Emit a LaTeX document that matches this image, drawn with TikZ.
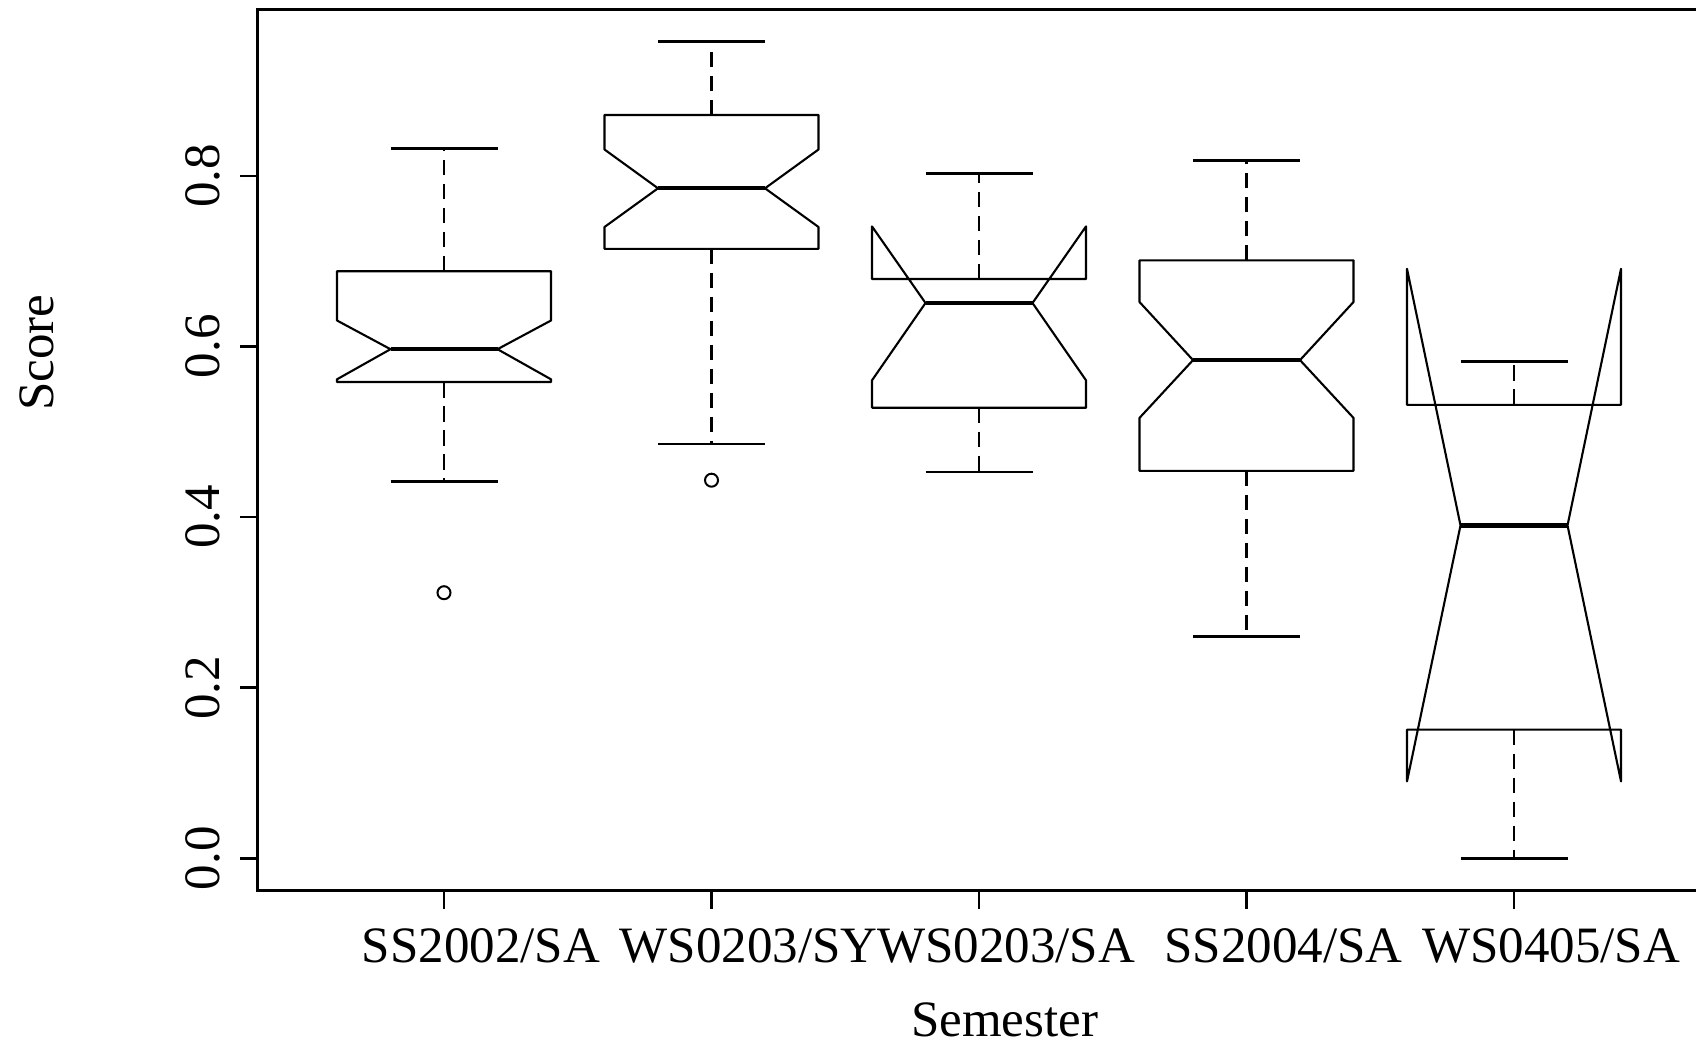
\documentclass[tikz,border=0pt]{standalone}
\usepackage{fontspec}
\setmainfont{Liberation Serif}
% #1 cx, #2 lower cap, #3 Q1, #4 notch low, #5 median, #6 notch high, #7 Q3, #8 upper cap (image y, downward)
\newcommand\nbxp[8]{%
  \draw[whisk] (#1,#3) -- (#1,#2);
  \draw[whisk] (#1,#7) -- (#1,#8);
  \draw[staple] ({#1-53.5},#2) -- ({#1+53.5},#2);
  \draw[staple] ({#1-53.5},#8) -- ({#1+53.5},#8);
  \draw[boxline] ({#1-107},#3) -- ({#1-107},#4) -- ({#1-53.5},#5) -- ({#1-107},#6) -- ({#1-107},#7)
     -- ({#1+107},#7) -- ({#1+107},#6) -- ({#1+53.5},#5) -- ({#1+107},#4) -- ({#1+107},#3) -- cycle;
  \draw[medline] ({#1-53.5},#5) -- ({#1+53.5},#5);
}
\begin{document}
\begin{tikzpicture}[x=0.5pt,y=-0.5pt,
  frame/.style={line width=1.35pt},
  boxline/.style={line width=1.05pt, line join=round},
  medline/.style={line width=2.15pt},
  whisk/.style={line width=1.35pt, dash pattern=on 7.75pt off 4.25pt},
  staple/.style={line width=1.45pt},
  tickline/.style={line width=1.2pt},
  outl/.style={line width=1pt},
  lab/.style={font=\fontsize{25.5pt}{30pt}\selectfont, inner sep=0pt, anchor=base},
]
\useasboundingbox (0,0) rectangle (1696,1044);
\clip (0,0) rectangle (1696,1044);

% frame (right edge lies outside the picture)
\draw[frame] (257.5,9.3) rectangle (1730,890.5);

% y axis ticks and labels
\foreach \v/\y in {0.0/858.3, 0.2/687.65, 0.4/517, 0.6/346.35, 0.8/175.7}{
  \draw[tickline] (257.5,\y) -- (239.5,\y);
  \node[lab, rotate=90] (ytick\v) at (219.5,\y) {\v};
}
\node[lab, rotate=90] (ylabel) at (53.3,352.5) {Score};

% x axis ticks and labels
\foreach \cx/\dx/\t [count=\i] in {444/37/SS2002\slash SA, 711.5/37/WS0203\slash SY, 979/27/WS0203\slash SA, 1246.5/37/SS2004\slash SA, 1514/37/WS0405\slash SA}{
  \draw[tickline] (\cx,890.5) -- (\cx,908.5);
  \node[lab] (xtick\i) at ({\cx+\dx},962.5) {\t};
}
\node[lab] (xlabel) at (1004.5,1036) {Semester};

% boxes
\nbxp{444}{481.5}{382}{379.3}{349.2}{320.5}{271.2}{148.8}
\nbxp{711.5}{444}{248.8}{227}{188.3}{149.5}{115}{41.5}
\nbxp{979}{472}{407.7}{380.3}{303}{226.4}{279}{173.5}
\nbxp{1246.5}{636.8}{470.8}{417.9}{360.1}{302}{260.3}{160.2}
\nbxp{1514}{858.5}{729.6}{781.4}{525.4}{268.8}{404.8}{361.2}

% outliers
\draw[outl] (444,592.7) circle[radius=6.5];
\draw[outl] (711.5,480.2) circle[radius=6.5];
\end{tikzpicture}
\end{document}
